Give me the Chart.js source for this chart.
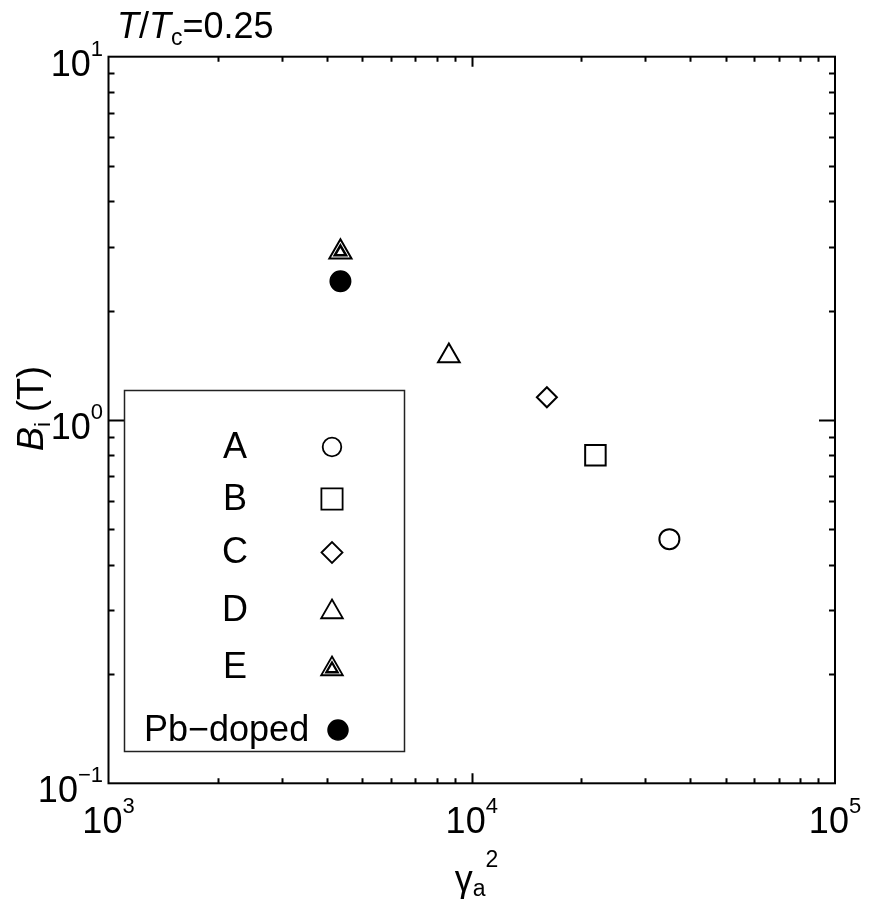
<!DOCTYPE html>
<html>
<head>
<meta charset="utf-8">
<script src="https://cdn.jsdelivr.net/npm/chart.js@4.4.1/dist/chart.umd.min.js"></script>
<style>
  html, body { margin: 0; padding: 0; background: #fff; }
  #wrap { width: 869px; height: 906px; }
</style>
</head>
<body>
<div id="wrap"><canvas id="grafico" width="869" height="906"></canvas></div>
<script>
// datos
const muestras = ['A', 'B', 'C', 'D', 'E', 'Pb\u2212doped'];
const gammaA2 = [35000, 21900, 16100, 8650, 4350, 4350];
const campoBi = [0.47, 0.80, 1.155, 1.50, 2.90, 2.41];
const ticksX = [1e3, 1e4, 1e5];
const ticksY = [0.1, 1, 10];

// estilo de cada marcador (mismo orden que muestras)
const estilos = ['circle', 'rect', 'rectRot', 'triangle', 'triangle', 'circle'];
const radios = [10, 14.5, 10, 12.5, 12.8, 10];
const rellenos = ['#fff', '#fff', '#fff', '#fff', '#fff', '#000'];

const FUENTE = '"Liberation Sans", Arial, Helvetica, sans-serif';
const T = 36;   // tamano de texto normal
const S = 22;   // tamano de sub/superindices

const datasets = muestras.map((m, i) => ({
    label: m,
    data: [{ x: gammaA2[i], y: campoBi[i] }],
    pointStyle: estilos[i],
    pointRadius: radios[i],
    pointBackgroundColor: rellenos[i],
    pointBorderColor: '#000',
    pointBorderWidth: 2,
    showLine: false,
    order: 1
}));
// triangulo interior de la muestra E (encima del exterior)
datasets.push({
    label: 'E-interior',
    data: [{ x: gammaA2[4], y: campoBi[4] }],
    pointStyle: 'triangle',
    pointRadius: 6.5,
    pointBackgroundColor: '#fff',
    pointBorderColor: '#000',
    pointBorderWidth: 2.5,
    showLine: false,
    order: 0
});

function marcador(ctx, estilo, r, relleno, ancho, x, y) {
    ctx.save();
    ctx.fillStyle = relleno;
    ctx.strokeStyle = '#000';
    ctx.lineWidth = ancho;
    Chart.helpers.drawPoint(ctx, { pointStyle: estilo, radius: r, rotation: 0, borderWidth: ancho }, x, y);
    ctx.restore();
}

function textoPartes(ctx, partes, x, y) {
    // partes: [texto, tamano, cursiva, desplazamiento]
    let cx = x;
    partes.forEach(p => {
        ctx.font = (p[2] ? 'italic ' : '') + p[1] + 'px ' + FUENTE;
        ctx.fillText(p[0], cx, y + (p[3] || 0));
        cx += ctx.measureText(p[0]).width;
    });
    return cx;
}

function anchoPartes(ctx, partes) {
    let w = 0;
    partes.forEach(p => {
        ctx.font = (p[2] ? 'italic ' : '') + p[1] + 'px ' + FUENTE;
        w += ctx.measureText(p[0]).width;
    });
    return w;
}

const ejesLog = {
    id: 'ejesLog',
    afterDraw(chart) {
        const ctx = chart.ctx;
        const a = chart.chartArea;
        const sx = chart.scales.x;
        const sy = chart.scales.y;
        ctx.save();
        ctx.strokeStyle = '#000';
        ctx.fillStyle = '#000';
        ctx.lineWidth = 2;
        ctx.strokeRect(a.left, a.top, a.right - a.left, a.bottom - a.top);

        // marcas menores y mayores hacia adentro
        ctx.beginPath();
        for (let d = 0; d < ticksX.length - 1; d++) {
            for (let k = 1; k < 10; k++) {
                if (k === 1 && d === 0) continue;
                const px = Math.round(sx.getPixelForValue(ticksX[d] * k)) + 0.5;
                const largo = k === 1 ? 10 : 5;
                ctx.moveTo(px, a.bottom); ctx.lineTo(px, a.bottom - largo);
                ctx.moveTo(px, a.top); ctx.lineTo(px, a.top + largo);
            }
        }
        for (let d = 0; d < ticksY.length - 1; d++) {
            for (let k = 1; k < 10; k++) {
                if (k === 1 && d === 0) continue;
                const py = Math.round(sy.getPixelForValue(ticksY[d] * k)) + 0.5;
                const largo = k === 1 ? 16 : 6;
                ctx.moveTo(a.left, py); ctx.lineTo(a.left + largo, py);
                ctx.moveTo(a.right, py); ctx.lineTo(a.right - largo, py);
            }
        }
        ctx.stroke();

        // etiquetas de las marcas (10 con exponente)
        ctx.textBaseline = 'alphabetic';
        ctx.textAlign = 'left';
        ticksX.forEach(v => {
            const px = sx.getPixelForValue(v);
            const partes = [['10', T, false, 0], [String(Math.round(Math.log10(v))), S, false, -20]];
            const w = anchoPartes(ctx, partes);
            textoPartes(ctx, partes, px - w / 2, a.bottom + 50);
        });
        ticksY.forEach(v => {
            const py = sy.getPixelForValue(v);
            const e = Math.round(Math.log10(v));
            const partes = [['10', T, false, 0], [e < 0 ? '\u2212' + (-e) : String(e), S, false, -20]];
            const w = anchoPartes(ctx, partes);
            textoPartes(ctx, partes, 103 - w, py + 19);
        });

        // titulo superior
        textoPartes(ctx, [['T', T, true], ['/', T, false], ['T', T, true], ['c', S + 1, false, 7], ['=0.25', T, false]], 117, 38);

        // titulo eje x
        const px4 = sx.getPixelForValue(1e4);
        textoPartes(ctx, [['\u03b3', T, false, 0], ['a', S + 1, false, 5], ['2', S + 1, false, -24]], px4 - 17, 891);

        // titulo eje y (rotado)
        ctx.save();
        ctx.translate(43, 451);
        ctx.rotate(-Math.PI / 2);
        textoPartes(ctx, [['B', T, true], ['i', S, false, 7], [' (T)', T, false]], 0, 0);
        ctx.restore();

        // leyenda
        ctx.fillStyle = '#fff';
        ctx.fillRect(124, 390, 280, 362);
        ctx.strokeStyle = '#222';
        ctx.lineWidth = 1.5;
        ctx.strokeRect(124.5, 390.5, 280, 361);
        const filas = [447, 499, 552.5, 610, 667];
        const radiosLeyenda = [9.3, 15, 10.5, 12.5, 12.5];
        ctx.textAlign = 'center';
        ctx.textBaseline = 'middle';
        for (let i = 0; i < 5; i++) {
            ctx.font = T + 'px ' + FUENTE;
            ctx.fillStyle = '#000';
            ctx.fillText(muestras[i], 235, filas[i] + 1);
            const yMarca = estilos[i] === 'triangle' ? filas[i] + 2 : filas[i];
            marcador(ctx, estilos[i], radiosLeyenda[i], rellenos[i], 1.8, 332, yMarca);
        }
        marcador(ctx, 'triangle', 6.5, '#fff', 2.3, 332, filas[4] + 2);
        ctx.textAlign = 'left';
        ctx.font = T + 'px ' + FUENTE;
        ctx.fillStyle = '#000';
        ctx.fillText(muestras[5], 144, 731);
        marcador(ctx, 'circle', 10, '#000', 1.5, 338, 730);
        ctx.restore();
    }
};

new Chart(document.getElementById('grafico').getContext('2d'), {
    type: 'scatter',
    data: { datasets: datasets },
    options: {
        responsive: false,
        animation: false,
        devicePixelRatio: 1,
        layout: { padding: { left: 108.5, top: 56.7, right: 34, bottom: 122.7 } },
        scales: {
            x: { type: 'logarithmic', min: 1e3, max: 1e5, display: false },
            y: { type: 'logarithmic', min: 0.1, max: 10, display: false }
        },
        plugins: { legend: { display: false }, tooltip: { enabled: false } }
    },
    plugins: [ejesLog]
});
</script>
</body>
</html>
